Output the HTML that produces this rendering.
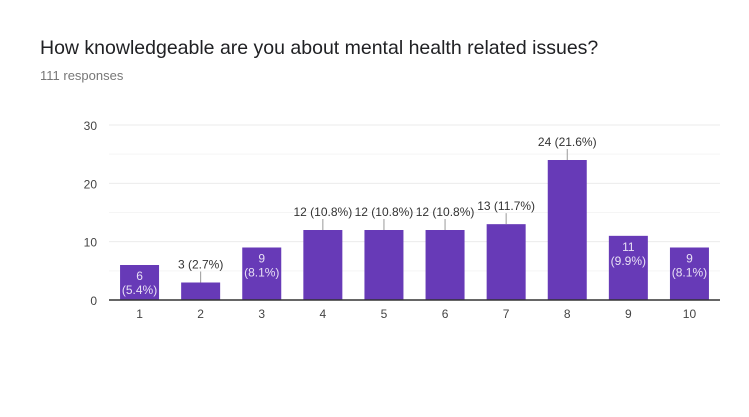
<!DOCTYPE html>
<html><head><style>
body{margin:0;background:#fff;font-family:"Liberation Sans",sans-serif;}
</style></head><body>
<svg width="749" height="412" xmlns="http://www.w3.org/2000/svg" font-family="Liberation Sans, sans-serif">
<text x="40" y="54" font-size="19.5" fill="#202124">How knowledgeable are you about mental health related issues?</text>
<text x="40" y="80" font-size="13" fill="#777">111 responses</text>
<g id="g"></g>
</svg>
<script>
const categories=["1","2","3","4","5","6","7","8","9","10"];
const values=[6,3,9,12,12,12,13,24,11,9];
const percents=["5.4%","2.7%","8.1%","10.8%","10.8%","10.8%","11.7%","21.6%","9.9%","8.1%"];
const yTicks=[0,10,20,30];
const insideLabel=[true,false,true,false,false,false,false,false,true,true];
const L=109,R=720,B=300,T=125,yMax=30;
const y=v=>B-(B-T)*v/yMax;
const step=(R-L)/categories.length;
const xc=i=>L+step*(i+0.5);
const g=document.getElementById('g');
const NS="http://www.w3.org/2000/svg";
function mk(t,a,txt){const e=document.createElementNS(NS,t);for(const k in a)e.setAttribute(k,a[k]);if(txt!=null)e.textContent=txt;g.appendChild(e);return e;}
for(let v=5;v<=30;v+=5){const l=mk('line',{x1:L,x2:R,y1:y(v),y2:y(v),stroke:v%10?'#f5f5f5':'#ebebeb'});

}
yTicks.forEach(v=>{const t=mk('text',{x:97,y:y(v)+5,'text-anchor':'end','font-size':12,fill:'#444'},v);

});
const bw=39;
values.forEach((v,i)=>{
const r=mk('rect',{x:xc(i)-bw/2,y:y(v),width:bw,height:B-y(v),fill:'#673ab7'});


if(insideLabel[i]){
const t1=mk('text',{x:xc(i),y:y(v)+15,'text-anchor':'middle','font-size':12,fill:'#e8e0f5'},v);


const t2=mk('text',{x:xc(i),y:y(v)+29,'text-anchor':'middle','font-size':12,fill:'#e8e0f5'},'('+percents[i]+')');


}else{
const ln=mk('line',{x1:xc(i),x2:xc(i),y1:y(v),y2:y(v)-11,stroke:'#999'});


const t=mk('text',{x:xc(i),y:y(v)-14,'text-anchor':'middle','font-size':12,fill:'#333'},v+' ('+percents[i]+')');


}
const xl=mk('text',{x:xc(i),y:318,'text-anchor':'middle','font-size':12,fill:'#444'},categories[i]);


});
const ax=mk('line',{x1:L,x2:R,y1:B,y2:B,stroke:'#333','stroke-width':1.5});


</script>
</body></html>
